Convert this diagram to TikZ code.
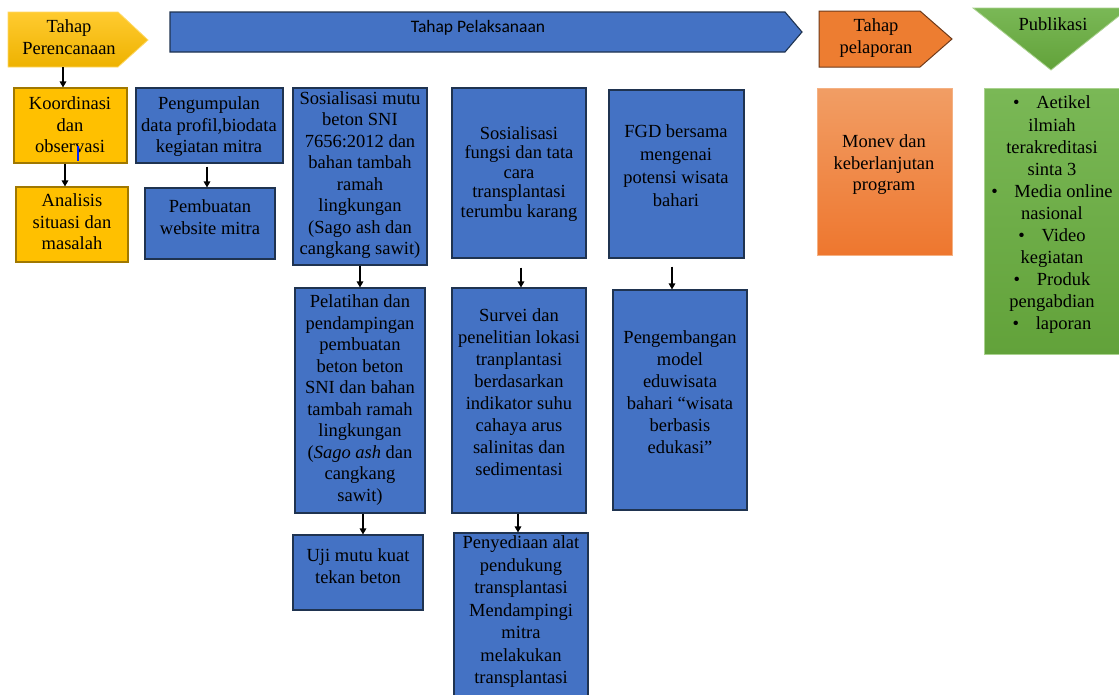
\documentclass[tikz,border=0pt]{standalone}
\usepackage{fontspec}
\setmainfont{Liberation Serif}
\newfontfamily\calfont{Carlito}
\usetikzlibrary{arrows.meta}
\definecolor{boxblue}{HTML}{4472C4}
\definecolor{boxblueline}{HTML}{1F3350}
\definecolor{boxyellow}{HTML}{FFC000}
\definecolor{boxyellowline}{HTML}{A07800}
\definecolor{hdrytop}{HTML}{FFCB30}
\definecolor{hdrybot}{HTML}{EEB200}
\definecolor{hdryline}{HTML}{FFD966}
\definecolor{hdrorange}{HTML}{ED7D31}
\definecolor{hdrorangeline}{HTML}{6E3A1A}
\definecolor{grtop}{HTML}{7AB856}
\definecolor{grbot}{HTML}{62A23A}
\definecolor{grline}{HTML}{A9D18E}
\tikzset{
  bluebox/.style={draw=boxblueline, line width=1.1pt, fill=boxblue, inner sep=0pt},
  yellowbox/.style={draw=boxyellowline, line width=1.1pt, fill=boxyellow, inner sep=0pt},
  txt/.style={align=center, inner sep=0pt, font=\fontsize{18.5}{21.5}\selectfont},
  arr/.style={-{Triangle[length=6pt,width=6.5pt]}, line width=1.3pt, black},
}
\begin{document}
\begin{tikzpicture}[x=1pt,y=-1pt]
\useasboundingbox (0,0) rectangle (1119,694);
\fill[white] (0,0) rectangle (1119,694);

% ---- headers ----
\path[draw=hdryline, line width=0.8pt, top color=hdrytop, bottom color=hdrybot]
  (8,12) -- (118,12) -- (148,40) -- (118,67) -- (8,67) -- cycle;
\node[txt] (hY) at (69,37) {Tahap\\Perencanaan};
\coordinate (hYb) at (63,67);

\path[draw=boxblueline, line width=1.1pt, fill=boxblue]
  (170,12) -- (785,12) -- (802,32) -- (785,52) -- (170,52) -- cycle;
\node[txt, font=\calfont\fontsize{17.5}{20}\selectfont] (hB) at (478,28) {Tahap Pelaksanaan};

\path[draw=hdrorangeline, line width=1pt, fill=hdrorange]
  (819,11) -- (920,11) -- (952,39) -- (920,67) -- (819,67) -- cycle;
\node[txt] (hO) at (876,38) {Tahap\\pelaporan};

\path[draw=grline, line width=0.8pt, top color=grtop, bottom color=grbot]
  (973,8) -- (1129,8) -- (1051,70) -- cycle;
\node[txt] (hG) at (1053,24) {Publikasi};

% ---- perencanaan column ----
\node[yellowbox, minimum width=113pt, minimum height=75pt] (koord) at (70.5,125.5) {};
\node[txt] (koord-t) at (70,125) {Koordinasi\\dan\\observasi};
\draw[blue!85!cyan, line width=2.6pt] (78,146) -- (78,161);
\node[yellowbox, minimum width=112pt, minimum height=75pt] (anal) at (72,224.5) {};
\node[txt] (anal-t) at (72,222) {Analisis\\situasi dan\\masalah};

% ---- pelaksanaan columns ----
\node[bluebox, minimum width=147pt, minimum height=75pt] (pengum) at (209.5,125.5) {};
\node[txt] (pengum-t) at (209,127) {Pengumpulan\\data profil,biodata\\kegiatan mitra};
\node[bluebox, minimum width=130pt, minimum height=71pt] (pembu) at (210,223.5) {};
\node[txt] (pembu-t) at (210,217) {Pembuatan\\website mitra};

\node[bluebox, minimum width=134pt, minimum height=177pt] (sosmutu) at (360,176.5) {};
\node[txt] (sosmutu-t) at (360,175) {Sosialisasi mutu\\beton SNI\\7656:2012 dan\\bahan tambah\\ramah\\lingkungan\\(Sago ash dan\\cangkang sawit)};
\node[bluebox, minimum width=130pt, minimum height=225pt] (pelat) at (360,400.5) {};
\node[txt] (pelat-t) at (360,400) {Pelatihan dan\\pendampingan\\pembuatan\\beton beton\\SNI dan bahan\\tambah ramah\\lingkungan\\(\textit{Sago ash} dan\\cangkang\\sawit)};
\node[bluebox, minimum width=130pt, minimum height=75pt] (uji) at (358,572.5) {};
\node[txt] (uji-t) at (358,566) {Uji mutu kuat\\tekan beton};

\node[bluebox, minimum width=134pt, minimum height=170pt] (sosfung) at (519,173) {};
\node[txt, font=\fontsize{18.5}{19.5}\selectfont] (sosfung-t) at (519,174) {Sosialisasi\\fungsi dan tata\\cara\\transplantasi\\terumbu karang};
\node[bluebox, minimum width=134pt, minimum height=225pt] (survei) at (519,400.5) {};
\node[txt, font=\fontsize{18.5}{22}\selectfont] (survei-t) at (519,392) {Survei dan\\penelitian lokasi\\tranplantasi\\berdasarkan\\indikator suhu\\cahaya arus\\salinitas dan\\sedimentasi};
\node[bluebox, minimum width=134pt, minimum height=187pt] (penyed) at (521,626.5) {};
\node[txt, font=\fontsize{18.5}{22.5}\selectfont] (penyed-t) at (521,612) {Penyediaan alat\\pendukung\\transplantasi\\Mendampingi\\mitra\\melakukan\\transplantasi};

\node[bluebox, minimum width=135pt, minimum height=168pt] (fgd) at (676.5,174) {};
\node[txt, font=\fontsize{18.5}{23}\selectfont] (fgd-t) at (676,166) {FGD bersama\\mengenai\\potensi wisata\\bahari};
\node[bluebox, minimum width=134pt, minimum height=220pt] (pengem) at (680,400) {};
\node[txt, font=\fontsize{18.5}{22}\selectfont] (pengem-t) at (680,392) {Pengembangan\\model\\eduwisata\\bahari “wisata\\berbasis\\edukasi”};

% ---- pelaporan ----
\node[draw=hdrorange!60!white, line width=0.8pt, top color=hdrorange!75!white, bottom color=hdrorange!95!red,
      minimum width=135pt, minimum height=167pt, inner sep=0pt] (monev) at (884.5,171.5) {};
\node[txt] (monev-t) at (884,165) {Monev dan\\keberlanjutan\\program};

% ---- publikasi ----
\node[draw=grline, line width=0.8pt, top color=grtop, bottom color=grbot,
      minimum width=136pt, minimum height=266pt, inner sep=0pt] (publ) at (1052,221) {};
\node[txt, font=\fontsize{18.5}{22.1}\selectfont] (publ-t) at (1052,215)
  {\textbullet\hspace{0.9em}Aetikel\\ilmiah\\terakreditasi\\sinta 3\\\textbullet\hspace{0.9em}Media online\\nasional\\\textbullet\hspace{0.9em}Video\\kegiatan\\\textbullet\hspace{0.9em}Produk\\pengabdian\\\textbullet\hspace{0.9em}laporan};

% ---- connectors ----
\draw[arr] (hYb) -- (hYb |- koord.north);
\draw[arr] (koord.south -| 65,0) -- (anal.north -| 65,0);
\draw[arr, shorten <=3pt] (pengum.south -| 207,0) -- (pembu.north -| 207,0);
\draw[arr] (sosmutu.south) -- (pelat.north);
\draw[arr] (pelat.south -| 363,0) -- (uji.north -| 363,0);
\draw[arr, shorten <=9pt] (sosfung.south -| 521,0) -- (survei.north -| 521,0);
\draw[arr] (survei.south -| 518,0) -- (penyed.north -| 518,0);
\draw[arr, shorten <=8pt] (fgd.south -| 672,0) -- (pengem.north -| 672,0);
\end{tikzpicture}
\end{document}
